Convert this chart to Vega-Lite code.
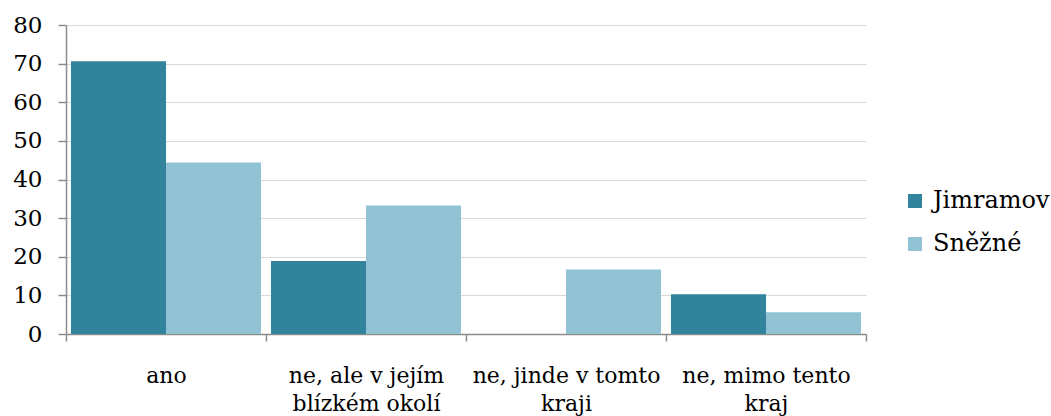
{
  "$schema": "https://vega.github.io/schema/vega-lite/v6.json",
  "autosize": {"type": "none"},
  "padding": {"left": 66, "top": 25, "right": 185, "bottom": 82},
  "width": 800,
  "height": 309,
  "background": "white",
  "data": {
    "values": [
      {"kategorie": "ano", "obec": "Jimramov", "hodnota": 70.6},
      {"kategorie": "ano", "obec": "Sněžné", "hodnota": 44.4},
      {"kategorie": "ne, ale v jejím blízkém okolí", "obec": "Jimramov", "hodnota": 18.9},
      {"kategorie": "ne, ale v jejím blízkém okolí", "obec": "Sněžné", "hodnota": 33.3},
      {"kategorie": "ne, jinde v tomto kraji", "obec": "Jimramov", "hodnota": 0},
      {"kategorie": "ne, jinde v tomto kraji", "obec": "Sněžné", "hodnota": 16.7},
      {"kategorie": "ne, mimo tento kraj", "obec": "Jimramov", "hodnota": 10.3},
      {"kategorie": "ne, mimo tento kraj", "obec": "Sněžné", "hodnota": 5.6}
    ]
  },
  "config": {
    "view": {"stroke": null},
    "font": "DejaVu Serif",
    "axis": {"labelFont": "DejaVu Serif", "labelColor": "#000000", "labelFontSize": 22}
  },
  "mark": {"type": "bar"},
  "encoding": {
    "x": {
      "field": "kategorie",
      "type": "nominal",
      "sort": null,
      "title": null,
      "scale": {"paddingInner": 0, "paddingOuter": 0},
      "axis": {
        "labelAngle": 0,
        "labelLimit": 260,
        "tickBand": "extent",
        "domainColor": "#8c8c8c",
        "domainWidth": 1.5,
        "tickColor": "#8c8c8c",
        "tickWidth": 1.5,
        "tickSize": 7,
        "labelPadding": 24,
        "labelLineHeight": 28,
        "labelBaseline": "top",
        "labelExpr": "datum.label == 'ne, ale v jejím blízkém okolí' ? ['ne, ale v jejím', 'blízkém okolí'] : datum.label == 'ne, jinde v tomto kraji' ? ['ne, jinde v tomto', 'kraji'] : datum.label == 'ne, mimo tento kraj' ? ['ne, mimo tento', 'kraj'] : datum.label"
      }
    },
    "xOffset": {"field": "obec", "type": "nominal", "scale": {"paddingInner": 0, "paddingOuter": 0.0526}},
    "y": {
      "field": "hodnota",
      "type": "quantitative",
      "title": null,
      "scale": {"domain": [0, 80], "nice": false},
      "axis": {
        "values": [0, 10, 20, 30, 40, 50, 60, 70, 80],
        "labelFontSize": 23,
        "gridColor": "#d9d9d9",
        "gridWidth": 1.2,
        "domainColor": "#8c8c8c",
        "domainWidth": 1.5,
        "tickColor": "#8c8c8c",
        "tickWidth": 1.5,
        "tickSize": 8,
        "labelPadding": 16
      }
    },
    "color": {
      "field": "obec",
      "type": "nominal",
      "scale": {"domain": ["Jimramov", "Sněžné"], "range": ["#31849b", "#92c3d4"]},
      "legend": {
        "title": null,
        "orient": "none",
        "legendX": 837,
        "legendY": 164,
        "symbolType": "square",
        "symbolSize": 196,
        "symbolStrokeWidth": 0,
        "labelFont": "DejaVu Serif",
        "labelFontSize": 24,
        "labelColor": "#000000",
        "labelLimit": 200,
        "rowPadding": 19,
        "labelOffset": 6
      }
    }
  }
}
